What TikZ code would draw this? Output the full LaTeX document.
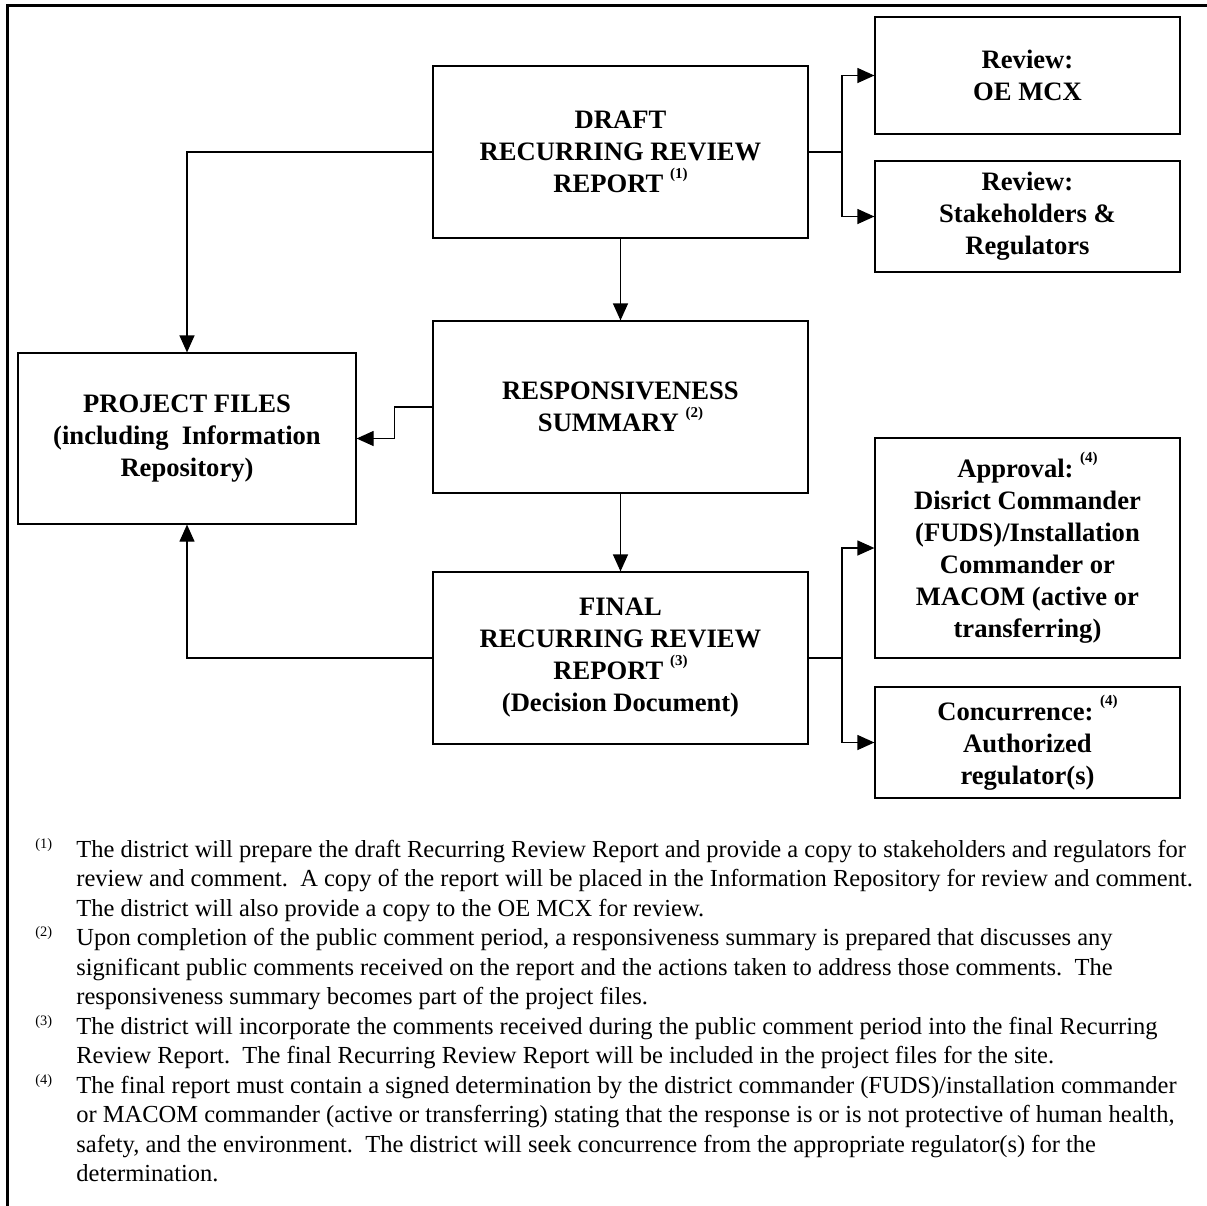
\documentclass[tikz,border=0pt]{standalone}
\usepackage{fontspec}
\setmainfont{Liberation Serif}
\usetikzlibrary{arrows.meta}
\newcommand\boxfont{\fontsize{13.3}{16}\selectfont\bfseries}
\newcommand\mysup[1]{\raisebox{0.55em}{\fontsize{7.5}{8}\selectfont(#1)}}
\newcommand\fnfont{\fontsize{12.25}{14}\selectfont}
\newcommand\fnmfont{\fontsize{7.2}{8}\selectfont}
\begin{document}
\begin{tikzpicture}[x=0.5pt,y=-0.5pt,
  box/.style={draw,line width=0.6pt,inner sep=0pt,align=center,font=\boxfont,
    minimum width=#1},
  box/.default=152.5pt,
  conn/.style={line width=0.6pt},
  arr/.style={line width=0.6pt,-{Triangle[length=8.5pt,width=7.5pt]}},
  frame/.style={line width=1.1pt},
  fntext/.style={anchor=base west,inner sep=0pt,font=\fnfont},
  fnmark/.style={anchor=base west,inner sep=0pt,font=\fnmfont}]
\useasboundingbox (0,0) rectangle (1207,1206);
% frame
\draw[frame] (1210,5.5) -- (7.5,5.5) -- (7.5,1210);
% boxes
\node[box=187.5pt,minimum height=86pt] (draft) at (620.5,152)
  {DRAFT\\RECURRING REVIEW\\REPORT \mysup{1}};
\node[box,minimum height=58.5pt] (oe) at (1027.5,75.5) {Review:\\OE MCX};
\node[box,minimum height=55.5pt] (stake) at (1027.5,216.5)
  {Review:\\Stakeholders \&\\Regulators};
\node[box=187.5pt,minimum height=86pt] (resp) at (620.5,407)
  {RESPONSIVENESS\\SUMMARY \mysup{2}};
\node[box=169pt,minimum height=85.5pt] (proj) at (187,438.5)
  {PROJECT FILES\\(including\ \ Information\\Repository)};
\node[box=187.5pt,minimum height=86pt] (final) at (620.5,658)
  {FINAL\\RECURRING REVIEW\\REPORT \mysup{3}\\(Decision Document)};
\node[box,minimum height=110pt] (appr) at (1027.5,548)
  {Approval:\ \mysup{4}\\Disrict Commander\\(FUDS)/Installation\\Commander or\\MACOM (active or\\transferring)};
\node[box,minimum height=55.5pt] (conc) at (1027.5,742.5)
  {Concurrence:\ \mysup{4}\\Authorized\\regulator(s)};
% junctions
\coordinate (j1) at (842,152);
\coordinate (j2) at (842,658);
% connectors
\draw[arr] (draft.west) -| (proj.north);
\draw[arr] (final.west) -| (proj.south);
\draw[arr] (resp.west) -- ++(-38,0) |- (proj.east);
\draw[arr] (draft.south) -- (resp.north);
\draw[arr] (resp.south) -- (final.north);
\draw[conn] (draft.east) -- (j1);
\draw[arr] (j1) |- (oe.west);
\draw[arr] (j1) |- (stake.west);
\draw[conn] (final.east) -- (j2);
\draw[arr] (j2) |- (appr.west);
\draw[arr] (j2) |- (conc.west);
% footnotes
\foreach \yb/\t [count=\i] in {
  857/{The district will prepare the draft Recurring Review Report and provide a copy to stakeholders and regulators for},
  886.5/{review and comment.\ \ A copy of the report will be placed in the Information Repository for review and comment.},
  916/{The district will also provide a copy to the OE MCX for review.},
  945.5/{Upon completion of the public comment period, a responsiveness summary is prepared that discusses any},
  975/{significant public comments received on the report and the actions taken to address those comments.\ \ The},
  1004.5/{responsiveness summary becomes part of the project files.},
  1034/{The district will incorporate the comments received during the public comment period into the final Recurring},
  1063.5/{Review Report.\ \ The final Recurring Review Report will be included in the project files for the site.},
  1093/{The final report must contain a signed determination by the district commander (FUDS)/installation commander},
  1122.5/{or MACOM commander (active or transferring) stating that the response is or is not protective of human health,},
  1152/{safety, and the environment.\ \ The district will seek concurrence from the appropriate regulator(s) for the},
  1181.5/{determination.}}
  \node[fntext] (fn\i) at (76,\yb) {\t};
\node[fnmark] (m1) at (35,848) {(1)};
\node[fnmark] (m2) at (35,936.5) {(2)};
\node[fnmark] (m3) at (35,1025) {(3)};
\node[fnmark] (m4) at (35,1084) {(4)};
\end{tikzpicture}
\end{document}
